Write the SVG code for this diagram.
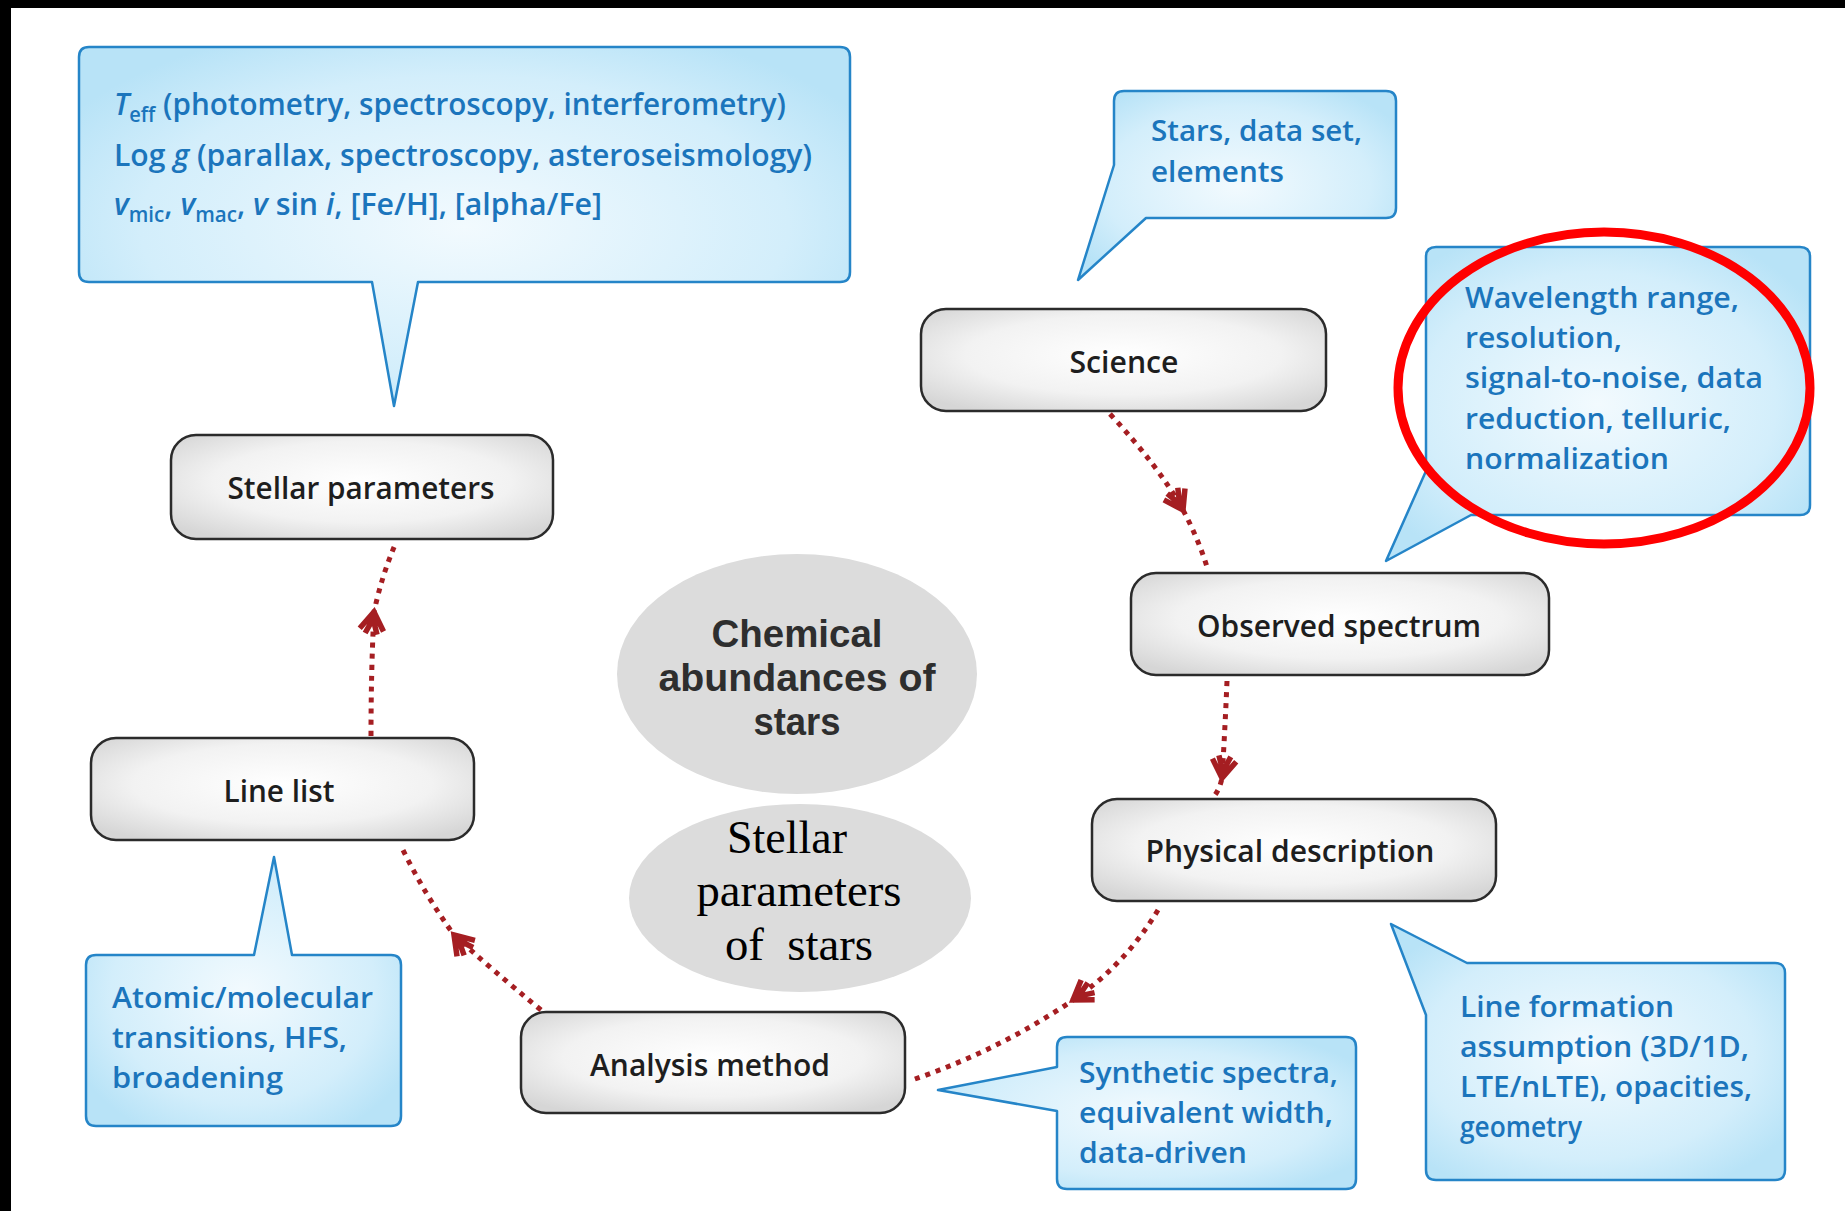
<svg xmlns="http://www.w3.org/2000/svg" width="1845" height="1211" viewBox="0 0 1845 1211">
<defs>
<radialGradient id="boxg" cx="50%" cy="45%" r="65%">
<stop offset="0" stop-color="#ffffff"/>
<stop offset="0.6" stop-color="#f2f2f2"/>
<stop offset="1" stop-color="#d6d6d6"/>
</radialGradient>
<radialGradient id="callg" cx="50%" cy="50%" r="60%">
<stop offset="0" stop-color="#f2fafe"/>
<stop offset="0.7" stop-color="#d3eefb"/>
<stop offset="1" stop-color="#b8e3f7"/>
</radialGradient>
<marker id="chev" markerUnits="userSpaceOnUse" markerWidth="50" markerHeight="50" viewBox="-25 -25 50 50" refX="0" refY="0" orient="auto">
<path d="M -18 -12 L 0 0 L -18 12 M -22 -6 L -7 0 L -22 6" fill="none" stroke="#a51e22" stroke-width="5.5" stroke-linejoin="miter"/>
</marker>
</defs>
<style>
.box{fill:url(#boxg);stroke:#2b2b2b;stroke-width:2.5}
.call{fill:url(#callg);stroke:#2585c8;stroke-width:2.5;stroke-linejoin:round}
.bt{font-family:"Open Sans","Liberation Sans",sans-serif;font-weight:600;font-size:31px;fill:#1e1e1e;text-anchor:middle}
.ct{font-family:"Open Sans","Liberation Sans",sans-serif;font-weight:600;font-size:29px;fill:#1b75bc}
.c1{font-size:31px}
.it{font-style:italic}
.ell{fill:#dcdcdc}
.et{font-family:"Liberation Sans",Arial,sans-serif;font-weight:bold;font-size:39px;fill:#2e2e2e;text-anchor:middle}
.st{font-family:"Liberation Serif","Times New Roman",serif;font-size:46px;fill:#000;text-anchor:middle}
.con{fill:none;stroke:#a51e22;stroke-width:5;stroke-dasharray:5 6;marker-mid:url(#chev)}
</style>
<rect x="0" y="0" width="1845" height="1211" fill="#ffffff"/>
<rect x="0" y="0" width="1845" height="8" fill="#000"/>
<rect x="0" y="0" width="11" height="1211" fill="#000"/>

<g id="callout-stellar">
<path class="call" d="M 89 47 H 840 Q 850 47 850 57 V 272 Q 850 282 840 282 H 418 L 394 406 L 372 282 H 89 Q 79 282 79 272 V 57 Q 79 47 89 47 Z"/>
<text class="ct c1" x="114" y="115" textLength="672" lengthAdjust="spacingAndGlyphs"><tspan class="it">T</tspan><tspan dy="7" font-size="21">eff</tspan><tspan dy="-7"> (photometry, spectroscopy, interferometry)</tspan></text>
<text class="ct c1" x="114" y="166" textLength="698" lengthAdjust="spacingAndGlyphs">Log <tspan class="it">g</tspan> (parallax, spectroscopy, asteroseismology)</text>
<text class="ct c1" x="114" y="215" textLength="488" lengthAdjust="spacingAndGlyphs"><tspan class="it">v</tspan><tspan dy="7" font-size="21">mic</tspan><tspan dy="-7">, </tspan><tspan class="it">v</tspan><tspan dy="7" font-size="21">mac</tspan><tspan dy="-7">, </tspan><tspan class="it">v</tspan> sin <tspan class="it">i</tspan>, [Fe/H], [alpha/Fe]</text>
</g>

<g id="callout-science">
<path class="call" d="M 1124 91 H 1386 Q 1396 91 1396 101 V 208 Q 1396 218 1386 218 H 1146 L 1078 280 L 1114 165 V 101 Q 1114 91 1124 91 Z"/>
<text class="ct" x="1151" y="141" textLength="211" lengthAdjust="spacingAndGlyphs">Stars, data set,</text>
<text class="ct" x="1151" y="182" textLength="133" lengthAdjust="spacingAndGlyphs">elements</text>
</g>

<g id="callout-observed">
<path class="call" d="M 1436 247 H 1800 Q 1810 247 1810 257 V 505 Q 1810 515 1800 515 H 1471 L 1386 561 L 1426 471 V 257 Q 1426 247 1436 247 Z"/>
<text class="ct" x="1465" y="308" textLength="274" lengthAdjust="spacingAndGlyphs">Wavelength range,</text>
<text class="ct" x="1465" y="348" textLength="157" lengthAdjust="spacingAndGlyphs">resolution,</text>
<text class="ct" x="1465" y="388" textLength="298" lengthAdjust="spacingAndGlyphs">signal-to-noise, data</text>
<text class="ct" x="1465" y="429" textLength="266" lengthAdjust="spacingAndGlyphs">reduction, telluric,</text>
<text class="ct" x="1465" y="469" textLength="204" lengthAdjust="spacingAndGlyphs">normalization</text>
</g>

<g id="callout-linelist">
<path class="call" d="M 96 955 H 254 L 274 857 L 292 955 H 391 Q 401 955 401 965 V 1116 Q 401 1126 391 1126 H 96 Q 86 1126 86 1116 V 965 Q 86 955 96 955 Z"/>
<text class="ct" x="112" y="1008" textLength="261" lengthAdjust="spacingAndGlyphs">Atomic/molecular</text>
<text class="ct" x="112" y="1048" textLength="235" lengthAdjust="spacingAndGlyphs">transitions, HFS,</text>
<text class="ct" x="112" y="1088" textLength="171" lengthAdjust="spacingAndGlyphs">broadening</text>
</g>

<g id="callout-analysis">
<path class="call" d="M 1067 1037 H 1346 Q 1356 1037 1356 1047 V 1179 Q 1356 1189 1346 1189 H 1067 Q 1057 1189 1057 1179 V 1111 L 938 1090 L 1057 1067 V 1047 Q 1057 1037 1067 1037 Z"/>
<text class="ct" x="1079" y="1083" textLength="259" lengthAdjust="spacingAndGlyphs">Synthetic spectra,</text>
<text class="ct" x="1079" y="1123" textLength="254" lengthAdjust="spacingAndGlyphs">equivalent width,</text>
<text class="ct" x="1079" y="1163" textLength="168" lengthAdjust="spacingAndGlyphs">data-driven</text>
</g>

<g id="callout-physical">
<path class="call" d="M 1467 963 H 1775 Q 1785 963 1785 973 V 1170 Q 1785 1180 1775 1180 H 1436 Q 1426 1180 1426 1170 V 1015 L 1391 924 Z"/>
<text class="ct" x="1460" y="1017" textLength="214" lengthAdjust="spacingAndGlyphs">Line formation</text>
<text class="ct" x="1460" y="1057" textLength="289" lengthAdjust="spacingAndGlyphs">assumption (3D/1D,</text>
<text class="ct" x="1460" y="1097" textLength="292" lengthAdjust="spacingAndGlyphs">LTE/nLTE), opacities,</text>
<text class="ct" x="1460" y="1137" textLength="122" lengthAdjust="spacingAndGlyphs">geometry</text>
</g>

<g id="highlight">
<ellipse cx="1604" cy="388" rx="206" ry="156" fill="none" stroke="#ff0000" stroke-width="9"/>
</g>

<g id="center-chemical">
<ellipse class="ell" cx="797" cy="674" rx="180" ry="120"/>
<text class="et" x="797" y="647" textLength="171" lengthAdjust="spacingAndGlyphs">Chemical</text>
<text class="et" x="797" y="691" textLength="277" lengthAdjust="spacingAndGlyphs">abundances of</text>
<text class="et" x="797" y="735" textLength="87" lengthAdjust="spacingAndGlyphs">stars</text>
</g>

<g id="center-stellar">
<ellipse class="ell" cx="800" cy="898" rx="171" ry="94"/>
<text class="st" x="787" y="853" textLength="120" lengthAdjust="spacingAndGlyphs">Stellar</text>
<text class="st" x="799" y="906" textLength="205" lengthAdjust="spacingAndGlyphs">parameters</text>
<text class="st" x="799" y="960" textLength="148" lengthAdjust="spacingAndGlyphs" xml:space="preserve">of  stars</text>
</g>

<g id="node-science">
<rect class="box" x="921" y="309" width="405" height="102" rx="25"/>
<text class="bt" x="1124" y="373" textLength="109" lengthAdjust="spacingAndGlyphs">Science</text>
</g>
<g id="node-stellar-parameters">
<rect class="box" x="171" y="435" width="382" height="104" rx="25"/>
<text class="bt" x="361" y="499" textLength="267" lengthAdjust="spacingAndGlyphs">Stellar parameters</text>
</g>
<g id="node-observed-spectrum">
<rect class="box" x="1131" y="573" width="418" height="102" rx="25"/>
<text class="bt" x="1339" y="637" textLength="284" lengthAdjust="spacingAndGlyphs">Observed spectrum</text>
</g>
<g id="node-line-list">
<rect class="box" x="91" y="738" width="383" height="102" rx="25"/>
<text class="bt" x="279" y="802" textLength="111" lengthAdjust="spacingAndGlyphs">Line list</text>
</g>
<g id="node-physical-description">
<rect class="box" x="1092" y="799" width="404" height="102" rx="25"/>
<text class="bt" x="1290" y="862" textLength="289" lengthAdjust="spacingAndGlyphs">Physical description</text>
</g>
<g id="node-analysis-method">
<rect class="box" x="521" y="1012" width="384" height="101" rx="25"/>
<text class="bt" x="710" y="1076" textLength="240" lengthAdjust="spacingAndGlyphs">Analysis method</text>
</g>

<g id="connectors">
<path class="con" d="M 1110 414 Q 1160 468 1183 510 Q 1198 538 1207 567"/>
<path class="con" d="M 1227 681 Q 1225 730 1222 778 Q 1220 788 1215 795"/>
<path class="con" d="M 1158 910 Q 1125 965 1073 1000 Q 1000 1050 912 1080"/>
<path class="con" d="M 541 1010 Q 490 968 454 935 Q 425 895 402 848"/>
<path class="con" d="M 371 736 Q 371 670 374 612 Q 382 575 395 545"/>
</g>
</svg>
